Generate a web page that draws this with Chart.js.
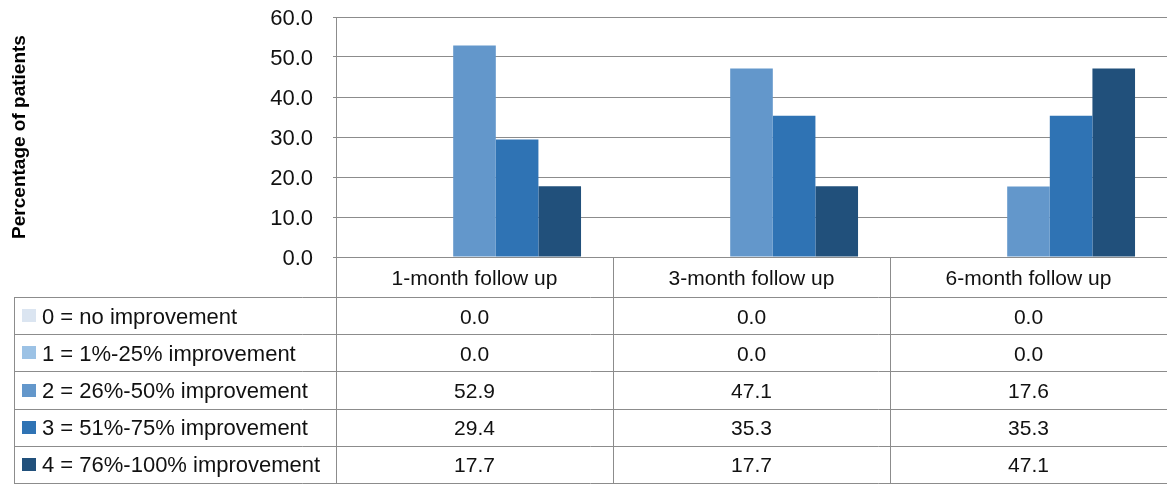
<!DOCTYPE html>
<html>
<head>
<meta charset="utf-8">
<script src="https://cdn.jsdelivr.net/npm/chart.js@4.4.1/dist/chart.umd.min.js"></script>
<style>
  html, body { margin: 0; padding: 0; background: #fff; }
  #wrap { width: 1167px; height: 484px; position: relative; }
</style>
</head>
<body>
<div id="wrap"><canvas id="improvement_chart"></canvas></div>
<script>
// data
const followUps = ['1-month follow up', '3-month follow up', '6-month follow up'];
const levelNames = [
    '0 = no improvement',
    '1 = 1%-25% improvement',
    '2 = 26%-50% improvement',
    '3 = 51%-75% improvement',
    '4 = 76%-100% improvement'
];
const noImprovement = [0.0, 0.0, 0.0];
const improved1to25 = [0.0, 0.0, 0.0];
const improved26to50 = [52.9, 47.1, 17.6];
const improved51to75 = [29.4, 35.3, 35.3];
const improved76to100 = [17.7, 17.7, 47.1];
const yTicks = [0, 10, 20, 30, 40, 50, 60];

const levelColors = ['#dbe5f1', '#9cc2e5', '#6397cb', '#2f73b4', '#21507b'];
const gridColor = '#8c8c8c';
const textColor = '#111111';
const fontFamily = '"Liberation Sans", Arial, sans-serif';

const plotLeft = 336;
const plotTop = 17;
const plotBottom = 257;
const tableLeft = 14;
const headerBottom = 297;
const tableBottom = 483;

const seriesValues = [noImprovement, improved1to25, improved26to50, improved51to75, improved76to100];

// draws the data table under the plot, columns follow the x scale
const dataTable = {
    id: 'dataTable',
    afterDraw(chart) {
        const ctx = chart.ctx;
        const x = chart.scales.x;
        const W = chart.width;
        const rowH = (tableBottom - headerBottom) / levelNames.length;
        const edges = [];
        for (let i = 0; i < followUps.length - 1; i++) {
            edges.push((x.getPixelForValue(i) + x.getPixelForValue(i + 1)) / 2);
        }

        ctx.save();
        ctx.strokeStyle = gridColor;
        ctx.lineWidth = 1;
        ctx.beginPath();
        // left edge of plot continues down through the table
        ctx.moveTo(plotLeft + 0.5, plotBottom);
        ctx.lineTo(plotLeft + 0.5, tableBottom + 1);
        edges.forEach(e => {
            ctx.moveTo(Math.round(e) + 0.5, plotBottom);
            ctx.lineTo(Math.round(e) + 0.5, tableBottom + 1);
        });
        ctx.moveTo(tableLeft + 0.5, headerBottom);
        ctx.lineTo(tableLeft + 0.5, tableBottom + 1);
        for (let r = 0; r <= levelNames.length; r++) {
            const y = Math.round(headerBottom + r * rowH) + 0.5;
            ctx.moveTo(tableLeft, y);
            ctx.lineTo(W, y);
        }
        ctx.stroke();

        ctx.fillStyle = textColor;
        ctx.textAlign = 'center';
        ctx.textBaseline = 'alphabetic';
        ctx.font = '21px ' + fontFamily;
        followUps.forEach((name, i) => {
            ctx.fillText(name, x.getPixelForValue(i), (plotBottom + headerBottom) / 2 + 8);
        });

        levelNames.forEach((name, r) => {
            const mid = headerBottom + r * rowH + rowH / 2;
            ctx.fillStyle = levelColors[r];
            ctx.fillRect(22, Math.round(mid - 6.5), 14, 13);
            ctx.fillStyle = textColor;
            ctx.textAlign = 'left';
            ctx.font = '22px ' + fontFamily;
            ctx.fillText(name, 42, mid + 8);
            ctx.textAlign = 'center';
            ctx.font = '21px ' + fontFamily;
            seriesValues[r].forEach((v, i) => {
                ctx.fillText(v.toFixed(1), x.getPixelForValue(i), mid + 8);
            });
        });
        ctx.restore();
    }
};

function add_chart() {
    const ctx = document.getElementById('improvement_chart');
    new Chart(ctx, {
        type: 'bar',
        data: {
            labels: followUps,
            datasets: seriesValues.map((vals, i) => ({
                label: levelNames[i],
                data: vals,
                backgroundColor: levelColors[i],
                borderWidth: 0
            }))
        },
        options: {
            responsive: true,
            maintainAspectRatio: false,
            animation: false,
            layout: {
                padding: { left: 0, right: 0, top: plotTop, bottom: 484 - plotBottom }
            },
            datasets: {
                bar: { categoryPercentage: 5 / 6.5, barPercentage: 1 }
            },
            plugins: {
                legend: { display: false },
                tooltip: { enabled: false }
            },
            scales: {
                x: { display: false },
                y: {
                    min: 0,
                    max: 60,
                    afterBuildTicks: scale => {
                        scale.ticks = yTicks.map(v => ({ value: v }));
                    },
                    afterFit: scale => {
                        scale.width = plotLeft;
                        // tick padding would otherwise push the plot top down
                        scale.paddingTop = 0;
                        scale.paddingBottom = 0;
                    },
                    grid: { color: gridColor, lineWidth: 1, tickLength: 3 },
                    border: { color: gridColor, width: 1 },
                    ticks: {
                        padding: 20,
                        labelOffset: 2,
                        color: textColor,
                        font: { family: fontFamily, size: 22 },
                        callback: v => Number(v).toFixed(1)
                    },
                    title: {
                        display: true,
                        text: 'Percentage of patients',
                        color: '#000',
                        font: { family: fontFamily, size: 19, weight: 'bold' },
                        padding: { top: 8, bottom: 0 }
                    }
                }
            }
        },
        plugins: [dataTable]
    });
}

add_chart();
</script>
</body>
</html>
